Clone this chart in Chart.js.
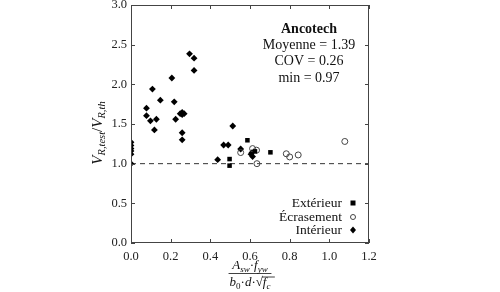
<!DOCTYPE html>
<html><head><meta charset="utf-8">
<script src="https://cdn.jsdelivr.net/npm/chart.js@4"></script>
<style>html,body{margin:0;padding:0;background:#fff}</style>
</head><body>
<canvas id="c" width="500" height="292"></canvas>
<script>
const seriesLabels = ['Extérieur', 'Écrasement', 'Intérieur'];
const exterieurX = [0.497, 0.497, 0.587, 0.625, 0.703];
const exterieurY = [1.058, 0.975, 1.295, 1.155, 1.143];
const ecrasementX = [0.553, 0.613, 0.633, 0.635, 0.783, 0.800, 0.843, 1.078];
const ecrasementY = [1.140, 1.190, 1.170, 1.000, 1.125, 1.085, 1.110, 1.280];
const interieurX = [0, 0, 0, 0, 0, 0, 0.078, 0.078, 0.098, 0.108, 0.118, 0.128, 0.148, 0.206, 0.218, 0.225, 0.248, 0.258, 0.268, 0.258, 0.258, 0.258, 0.295, 0.318, 0.318, 0.437, 0.467, 0.490, 0.513, 0.553, 0.605, 0.613, 0.610];
const interieurY = [1.00, 1.12, 1.16, 1.19, 1.23, 1.27, 1.70, 1.605, 1.54, 1.94, 1.425, 1.56, 1.80, 2.08, 1.78, 1.56, 1.63, 1.645, 1.63, 1.62, 1.39, 1.30, 2.385, 2.33, 2.175, 1.05, 1.235, 1.235, 1.475, 1.185, 1.12, 1.09, 1.14];
const refLineX = [0, 1.2];
const refLineY = [1.0, 1.0];
const xTicks = [0, 0.2, 0.4, 0.6, 0.8, 1.0, 1.2];
const yTicks = [0, 0.5, 1.0, 1.5, 2.0, 2.5, 3.0];
const statsTitle = 'Ancotech';
const statsLines = ['Moyenne = 1.39', 'COV = 0.26', 'min = 0.97'];

const zip = (xs, ys) => xs.map((x, i) => ({x: x, y: ys[i]}));
const SERIF = '"Liberation Serif", "DejaVu Serif", serif';
const AX = '#444';

const extras = {
  id: 'extras',
  afterDraw(chart) {
    const ctx = chart.ctx, a = chart.chartArea;
    const xs = chart.scales.x, ys = chart.scales.y;
    ctx.save();
    // frame
    ctx.strokeStyle = AX; ctx.lineWidth = 1;
    ctx.strokeRect(Math.round(a.left) + 0.5, Math.round(a.top) + 0.5, Math.round(a.right - a.left) - 1, Math.round(a.bottom - a.top) - 1);
    // inward ticks on four sides
    const L = 4;
    ctx.beginPath();
    xTicks.forEach(v => {
      const p = Math.round(xs.getPixelForValue(v)) + 0.5;
      ctx.moveTo(p, a.bottom); ctx.lineTo(p, a.bottom - L);
      ctx.moveTo(p, a.top); ctx.lineTo(p, a.top + L);
    });
    yTicks.forEach(v => {
      const p = Math.round(ys.getPixelForValue(v)) + 0.5;
      ctx.moveTo(a.left, p); ctx.lineTo(a.left + L, p);
      ctx.moveTo(a.right, p); ctx.lineTo(a.right - L, p);
    });
    ctx.stroke();

    // stats text box
    ctx.fillStyle = '#111';
    ctx.textAlign = 'center'; ctx.textBaseline = 'middle';
    const cx = 309;
    ctx.font = 'bold 14px ' + SERIF;
    ctx.fillText(statsTitle, cx, 29);
    ctx.font = '14px ' + SERIF;
    statsLines.forEach((t, i) => ctx.fillText(t, cx, 45 + i * 16.5));

    // legend
    ctx.font = '13.5px ' + SERIF;
    ctx.textAlign = 'right';
    const ly = [203, 217, 230];
    chart.data.datasets.slice(0, 3).forEach((ds, i) => {
      ctx.fillStyle = '#111';
      ctx.fillText(ds.label, 342, ly[i]);
      const mx = 353, my = ly[i];
      ctx.beginPath();
      if (ds.pointStyle === 'rect') {
        ctx.fillStyle = '#000'; ctx.fillRect(mx - 2.5, my - 2.5, 5, 5);
      } else if (ds.pointStyle === 'circle') {
        ctx.strokeStyle = '#444'; ctx.lineWidth = 1; ctx.arc(mx, my, 2.5, 0, Math.PI * 2); ctx.stroke();
      } else {
        ctx.fillStyle = '#000';
        ctx.moveTo(mx, my - 3.5); ctx.lineTo(mx + 3, my); ctx.lineTo(mx, my + 3.5); ctx.lineTo(mx - 3, my); ctx.closePath(); ctx.fill();
      }
    });

    // rich text helper
    function rich(parts, x, y, align) {
      let w = 0;
      parts.forEach(p => { ctx.font = p.f; w += ctx.measureText(p.t).width; });
      let cur = align === 'center' ? x - w / 2 : x;
      ctx.textAlign = 'left';
      parts.forEach(p => {
        ctx.font = p.f;
        ctx.fillText(p.t, cur, y + (p.dy || 0));
        if (p.over) {
          ctx.beginPath(); ctx.lineWidth = 0.8;
          ctx.moveTo(cur - 1, y - 9); ctx.lineTo(cur + p.over, y - 9); ctx.stroke();
        }
        cur += ctx.measureText(p.t).width;
      });
      return w;
    }
    const I = 'italic 15px ' + SERIF, S = 'italic 10.5px ' + SERIF, N = '15px ' + SERIF;
    ctx.fillStyle = '#111'; ctx.strokeStyle = '#111';
    ctx.textBaseline = 'alphabetic';
    // y-axis title (rotated)
    ctx.save();
    ctx.translate(102, 133);
    ctx.rotate(-Math.PI / 2);
    rich([
      {t: 'V', f: I}, {t: 'R,test', f: S, dy: 3}, {t: '/', f: N},
      {t: 'V', f: I}, {t: 'R,th', f: S, dy: 3}
    ], 0, 0, 'center');
    ctx.restore();

    // x-axis title (fraction)
    const fx = (a.left + a.right) / 2;
    const I2 = 'italic 13px ' + SERIF, S2 = 'italic 9px ' + SERIF, N2 = '13px ' + SERIF, NS2 = '9px ' + SERIF;
    const w1 = rich([
      {t: 'A', f: I2}, {t: 'sw', f: S2, dy: 2.5}, {t: '·', f: N2},
      {t: 'f', f: I2}, {t: 'yw', f: S2, dy: 2.5}
    ], fx, 269, 'center');
    const w2 = rich([
      {t: 'b', f: I2}, {t: '0', f: NS2, dy: 2.5}, {t: '·', f: N2},
      {t: 'd', f: I2}, {t: '·', f: N2}, {t: '√', f: N2},
      {t: 'f', f: I2, over: 12}, {t: 'c', f: S2, dy: 2.5}
    ], fx, 286, 'center');
    const fw = Math.max(w1, w2) + 2;
    ctx.beginPath(); ctx.lineWidth = 0.8;
    ctx.moveTo(fx - fw / 2, 273.5); ctx.lineTo(fx + fw / 2, 273.5); ctx.stroke();
    ctx.restore();
  }
};

new Chart(document.getElementById('c'), {
  type: 'scatter',
  data: {
    datasets: [
      {label: seriesLabels[0], data: zip(exterieurX, exterieurY), pointStyle: 'rect', pointRadius: 3.2, backgroundColor: '#000', borderColor: '#000', borderWidth: 0},
      {label: seriesLabels[1], data: zip(ecrasementX, ecrasementY), pointStyle: 'circle', pointRadius: 3, backgroundColor: 'rgba(255,255,255,0)', borderColor: '#444', borderWidth: 1},
      {label: seriesLabels[2], data: zip(interieurX, interieurY), pointStyle: 'rectRot', pointRadius: 3.4, backgroundColor: '#000', borderColor: '#000', borderWidth: 0},
      {label: 'ref', type: 'line', data: zip(refLineX, refLineY), borderColor: '#333', borderWidth: 1, borderDash: [5, 4], pointRadius: 0, fill: false}
    ]
  },
  options: {
    responsive: false,
    animation: false,
    layout: {padding: {left: 88, right: 131, top: 5, bottom: 0}},
    plugins: {legend: {display: false}, tooltip: {enabled: false}},
    scales: {
      x: {
        type: 'linear', min: 0, max: 1.2,
        grid: {display: false, drawTicks: false},
        border: {display: false},
        afterBuildTicks: s => { s.ticks = xTicks.map(v => ({value: v})); },
        ticks: {padding: 6, color: '#222', font: {family: SERIF, size: 12.5}, callback: v => Number(v).toFixed(1), maxRotation: 0},
        afterFit: s => { s.height = 49; s.paddingLeft = 0; s.paddingRight = 0; }
      },
      y: {
        type: 'linear', min: 0, max: 3,
        grid: {display: false, drawTicks: false},
        border: {display: false},
        afterBuildTicks: s => { s.ticks = yTicks.map(v => ({value: v})); },
        ticks: {padding: 4, color: '#222', font: {family: SERIF, size: 12.5}, callback: v => Number(v).toFixed(1)},
        afterFit: s => { s.width = 43; s.paddingTop = 0; s.paddingBottom = 0; }
      }
    }
  },
  plugins: [extras]
});
</script>
</body></html>
